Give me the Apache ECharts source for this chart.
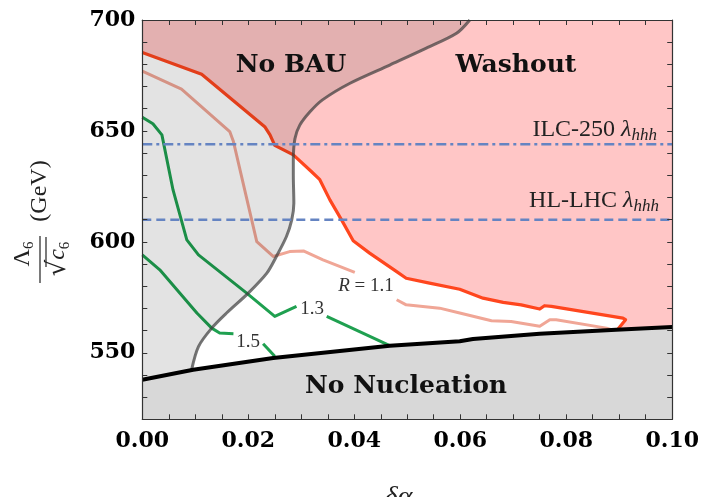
<!DOCTYPE html>
<html><head><meta charset="utf-8">
<script src="https://cdn.jsdelivr.net/npm/echarts@6.0.0/dist/echarts.min.js"></script>
<style>html,body{margin:0;padding:0;background:#fff}#c{width:702px;height:497px}</style>
</head><body><div id="c"></div>
<script>
// ---- data ----
const xTickLabels = ['0.00','0.02','0.04','0.06','0.08','0.10'];
const yTickLabels = ['550','600','650','700'];
const xRange = [0, 0.1];
const yRange = [520, 700];

// R = 1 contour (washout boundary)
const contourR10 = [[0,685.4],[0.0112,675.5],[0.0231,651.9],[0.0241,648.2],[0.0250,643.5],[0.0285,639.2],[0.0319,631.7],[0.0335,628.0],[0.0354,618.9],[0.0376,609.9],[0.0398,600.5],[0.0429,594.9],[0.0480,586.6],[0.0498,583.6],[0.0542,581.4],[0.0599,578.6],[0.0643,574.6],[0.0681,572.7],[0.0715,571.6],[0.0750,569.7],[0.0759,571.2],[0.0772,570.9],[0.0907,565.6],[0.0912,564.9],[0.0897,560.5]];
// R = 1.1 contour (two pieces around its label)
const contourR11a = [[0,677.0],[0.0074,668.8],[0.0165,649.7],[0.0172,645.2],[0.0216,600.1],[0.0247,593.4],[0.0278,595.6],[0.0304,595.9],[0.0341,591.9],[0.0401,586.2]];
const contourR11b = [[0.0480,573.9],[0.0498,571.6],[0.0561,570.1],[0.0599,567.9],[0.0659,564.4],[0.0696,564.1],[0.0750,561.9],[0.0769,564.9],[0.0781,564.9],[0.0876,561.1],[0.0885,560.4]];
// R = 1.3 contour
const contourR13a = [[0,656.2],[0.0020,653.2],[0.0037,648.2],[0.0058,623.4],[0.0084,600.9],[0.0106,594.1],[0.0197,576.9],[0.0250,566.4],[0.0291,570.9]];
const contourR13b = [[0.0348,566.4],[0.0467,553.2]];
// R = 1.5 contour
const contourR15a = [[0,594.1],[0.0033,587.4],[0.0103,567.9],[0.0131,561.1],[0.0146,558.9],[0.0172,558.6]];
const contourR15b = [[0.0228,554.1],[0.0250,548.4]];
// No-BAU boundary (gray curve)
const bauBoundary = [[0.0093,542.3],[0.0106,552.8],[0.0131,561.1],[0.0159,567.9],[0.0200,576.9],[0.0235,585.9],[0.0253,593.4],[0.0272,602.4],[0.0282,609.9],[0.0286,617.4],[0.0285,630.0],[0.0285,637.0],[0.0288,646.5],[0.0297,652.5],[0.0316,658.5],[0.0340,664.0],[0.0392,671.5],[0.0467,679.7],[0.0536,687.3],[0.0593,694.0],[0.0618,700.0]];
// Nucleation boundary (black line)
const nucleationBoundary = [[0,537.8],[0.0096,542.3],[0.0247,547.6],[0.0467,553.2],[0.0599,555.2],[0.0624,556.2],[0.0750,558.6],[0.0894,560.4],[0.1,561.6]];
// Collider sensitivities
const ilcLambda = 644;
const hllhcLambda = 610;

// ---- build regions from the data ----
const washoutRegion = contourR10.concat(nucleationBoundary.filter(p => p[0] > contourR10[contourR10.length-1][0]))
  .concat([[xRange[1], yRange[1]], [xRange[0], yRange[1]]]);
const noBauRegion = [[xRange[0], nucleationBoundary[0][1]], [xRange[0], yRange[1]]].concat(bauBoundary.slice().reverse());
const noNucRegion = nucleationBoundary.concat([[xRange[1], yRange[0]], [xRange[0], yRange[0]]]);

function polySeries(pts, style, z) {
  return {type:'custom', coordinateSystem:'cartesian2d', z:z, silent:true, clip:true, data:[[0.05,600]],
    renderItem: (params, api) => ({type:'polygon', shape:{points: pts.map(p => api.coord(p))}, style: style})};
}
function lineSeries(pts, color, width, z, type, smooth) {
  return {type:'line', data:pts, z:z, silent:true, showSymbol:false, symbol:'none', animation:false, smooth: smooth || false,
    lineStyle:{color:color, width:width, type: type || 'solid', cap:'butt', join:'round'}};
}

const tickFont = {fontFamily:'DejaVu Serif', fontWeight:'bold', fontSize:22, color:'#000'};
const xTickVals = xTickLabels.map(Number), yTickVals = yTickLabels.map(Number);
const axisCommon = {
  z: 20,
  axisLine:{show:true, onZero:false, lineStyle:{color:'#333', width:1.2}},
  axisTick:{show:true, inside:true, length:5, lineStyle:{color:'#333', width:1}},
  splitLine:{show:false}
};

const rich = (f) => f;
const chart = echarts.init(document.getElementById('c'), null, {renderer:'canvas'});
chart.setOption({
  animation:false,
  grid:{left:142.3, right:29.3, top:20, bottom:77.7, containLabel:false},
  xAxis:[
    Object.assign({type:'value', position:'bottom', min:xRange[0], max:xRange[1], interval:0.005,
      axisLabel:Object.assign({margin:11, showMinLabel:true, showMaxLabel:true,
        formatter: v => xTickVals.some(t => Math.abs(t - v) < 1e-9) ? v.toFixed(2) : ''}, tickFont)}, axisCommon),
    Object.assign({type:'value', position:'top', min:xRange[0], max:xRange[1], interval:0.005, axisLabel:{show:false}}, axisCommon)
  ],
  yAxis:[
    Object.assign({type:'value', position:'left', min:yRange[0], max:yRange[1], interval:10,
      axisLabel:Object.assign({margin:7, showMinLabel:true, showMaxLabel:true,
        formatter: v => yTickVals.some(t => Math.abs(t - v) < 1e-6) ? String(Math.round(v)) : ''}, tickFont)}, axisCommon),
    Object.assign({type:'value', position:'right', min:yRange[0], max:yRange[1], interval:10, axisLabel:{show:false}}, axisCommon)
  ],
  series:[
    polySeries(washoutRegion, {fill:'#ffc6c6'}, 1),
    polySeries(noNucRegion, {fill:'#d8d8d8'}, 1),
    lineSeries(contourR11a, '#f0a696', 3, 3),
    lineSeries(contourR11b, '#f0a696', 3, 3),
    lineSeries(contourR13a, '#1fa050', 3, 3),
    lineSeries(contourR13b, '#1fa050', 3, 3),
    lineSeries(contourR15a, '#1fa050', 3, 3),
    lineSeries(contourR15b, '#1fa050', 3, 3),
    lineSeries(contourR10, '#ff461e', 3.2, 3),
    polySeries(noBauRegion, {fill:'rgba(0,0,0,0.11)'}, 4),
    lineSeries(bauBoundary, 'rgba(60,60,60,0.7)', 3, 5, 'solid', 0.3),
    lineSeries([[xRange[0], ilcLambda],[xRange[1], ilcLambda]], '#6584c2', 2.5, 6, [10,4,3,4]),
    lineSeries([[xRange[0], hllhcLambda],[xRange[1], hllhcLambda]], '#6584c2', 2.5, 6, [9,5]),
    lineSeries(nucleationBoundary, '#000', 4, 7)
  ],
  graphic:[
    {type:'text', x:291, y:65, z:100, style:{text:'No BAU', font:'bold 25px "DejaVu Serif"', fill:'#111', align:'center', verticalAlign:'middle'}},
    {type:'text', x:516, y:65, z:100, style:{text:'Washout', font:'bold 25px "DejaVu Serif"', fill:'#111', align:'center', verticalAlign:'middle'}},
    {type:'text', x:406, y:386, z:100, style:{text:'No Nucleation', font:'bold 25px "DejaVu Serif"', fill:'#111', align:'center', verticalAlign:'middle'}},
    {type:'text', x:657, y:130, z:100, style:{text:'{n|ILC-250 }{l|λ}{s|hhh}', align:'right', verticalAlign:'middle',
      rich:{n:{font:'24px "Liberation Serif"', fill:'#222', lineHeight:28}, l:{font:'italic 24px "Liberation Serif"', fill:'#222', lineHeight:28},
            s:{font:'italic 17px "Liberation Serif"', fill:'#222', lineHeight:28, verticalAlign:'bottom'}}}},
    {type:'text', x:659, y:201, z:100, style:{text:'{n|HL-LHC }{l|λ}{s|hhh}', align:'right', verticalAlign:'middle',
      rich:{n:{font:'24px "Liberation Serif"', fill:'#222', lineHeight:28}, l:{font:'italic 24px "Liberation Serif"', fill:'#222', lineHeight:28},
            s:{font:'italic 17px "Liberation Serif"', fill:'#222', lineHeight:28, verticalAlign:'bottom'}}}},
    {type:'text', x:366, y:286, z:100, style:{text:'{i|R} = 1.1', font:'19px "Liberation Serif"', fill:'#333', align:'center', verticalAlign:'middle',
      rich:{i:{font:'italic 19px "Liberation Serif"', fill:'#333'}}}},
    {type:'text', x:312, y:309, z:100, style:{text:'1.3', font:'19px "Liberation Serif"', fill:'#333', align:'center', verticalAlign:'middle'}},
    {type:'text', x:248, y:342, z:100, style:{text:'1.5', font:'19px "Liberation Serif"', fill:'#333', align:'center', verticalAlign:'middle'}},
    {type:'text', x:403, y:482, z:100, style:{text:'{d|δα}{s|2}', align:'center', verticalAlign:'top',
      rich:{d:{font:'italic 28px "Liberation Serif"', fill:'#222', lineHeight:32}, s:{font:'18px "Liberation Serif"', fill:'#222', lineHeight:32, verticalAlign:'bottom'}}}},
    {type:'group', x:40, y:221, rotation:Math.PI/2, z:100, children:[
      {type:'text', x:30, y:0, style:{text:'(GeV)', font:'24px "Liberation Serif"', fill:'#222', align:'center', verticalAlign:'middle'}},
      {type:'line', shape:{x1:-62, y1:0, x2:-15, y2:0}, style:{stroke:'#222', lineWidth:1.2}},
      {type:'text', x:-33, y:-3, style:{text:'{a|Λ}{s|6}', align:'center', verticalAlign:'bottom',
        rich:{a:{font:'24px "Liberation Serif"', fill:'#222', lineHeight:28}, s:{font:'15px "Liberation Serif"', fill:'#222', lineHeight:28, verticalAlign:'bottom'}}}},
      {type:'text', x:-38, y:3, style:{text:'{r|√}{c|c}{s|6}', align:'center', verticalAlign:'top',
        rich:{r:{font:'26px "DejaVu Serif"', fill:'#222', lineHeight:30}, c:{font:'italic 24px "Liberation Serif"', fill:'#222', lineHeight:30}, s:{font:'15px "Liberation Serif"', fill:'#222', lineHeight:30, verticalAlign:'bottom'}}}},
      {type:'line', shape:{x1:-46, y1:6, x2:-16, y2:6}, style:{stroke:'#222', lineWidth:1.2}}
    ]}
  ]
});
</script></body></html>
